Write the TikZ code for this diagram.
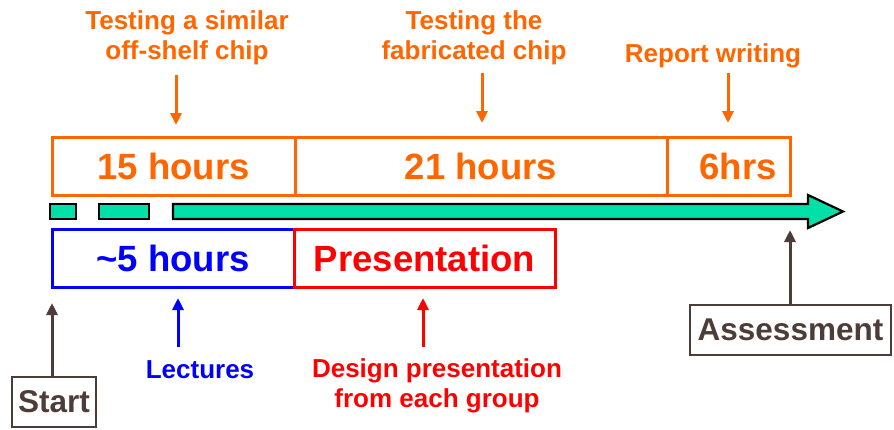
\documentclass[tikz,border=0pt]{standalone}
\usepackage{fontspec}
\setmainfont{Liberation Sans}
\usetikzlibrary{arrows.meta}
\definecolor{org}{HTML}{FF6600}
\definecolor{grn}{HTML}{00E0A8}
\definecolor{brn}{HTML}{4D3D38}
\definecolor{blu}{HTML}{0000FF}
\definecolor{rd}{HTML}{FF0000}
\tikzset{
  lab/.style={font=\fontsize{26}{30.5}\selectfont\bfseries, align=center, inner sep=0pt, anchor=north},
  big/.style={font=\fontsize{36.5}{40}\selectfont\bfseries, inner sep=0pt, minimum height=58pt, line width=3pt},
  obox/.style={big, draw=org, text=org},
  bbox/.style={big, draw=blu, text=blu},
  rbox/.style={big, draw=rd, text=rd},
  kbox/.style={draw=brn, text=brn, line width=2pt, font=\fontsize{31.5}{34}\selectfont\bfseries, inner sep=0pt, minimum height=50pt},
  tipA/.style={-{Triangle[length=12pt,width=11pt]}, line width=3pt},
  oarr/.style={tipA, draw=org},
  barr/.style={tipA, draw=blu},
  rarr/.style={tipA, draw=rd},
  karr/.style={tipA, draw=brn},
  garr/.style={draw=black, fill=grn, line width=2.2pt, line join=miter}
}
\begin{document}
\begin{tikzpicture}[x=1pt,y=-1pt]
\useasboundingbox (0,0) rectangle (894,429);
% top labels
\node[lab, text=org] (l1) at (187,10) {Testing a similar\\off-shelf chip};
\node[lab, text=org] (l2) at (474,10) {Testing the\\fabricated chip};
\node[lab, text=org] (l3) at (713,43) {Report writing};
% orange boxes
\node[obox, minimum width=243pt] (b15) at (173.5,166) {15 hours};
\node[obox, minimum width=372pt] (b21) at (481,166) {21 hours};
\node[obox, minimum width=123pt] (b6) at (728.5,166) {\hspace*{19pt}6hrs};
% lower boxes
\node[bbox, minimum width=242pt] (b5) at (173,258) {\textasciitilde5 hours};
\node[rbox, minimum width=261pt] (pres) at (424.5,258) {Presentation};
% green timeline
\draw[garr] (50,204) rectangle (76,219);
\draw[garr] (99,204) rectangle (149,219);
\draw[garr] (173,204) -- (808,204) -- (808,195) -- (843,211.5) -- (808,228) -- (808,219) -- (173,219) -- cycle;
% bottom labels
\node[lab, text=blu] (lec) at (200,360) {Lectures};
\node[lab, text=rd] (dp) at (437,358) {Design presentation\\from each group};
\node[kbox, minimum width=84pt] (start) at (54,402) {Start};
\node[kbox, minimum width=201pt] (assess) at (790.5,330) {Assessment};
% arrows
\coordinate (a1s) at (176,75); \coordinate (a1e) at (176,125);
\coordinate (a2s) at (482,73); \coordinate (a2e) at (482,123);
\coordinate (a3s) at (728,73); \coordinate (a3e) at (728,123);
\draw[oarr] (a1s) -- (a1e);
\draw[oarr] (a2s) -- (a2e);
\draw[oarr] (a3s) -- (a3e);
\coordinate (lecs) at (178,347); \coordinate (lece) at (178,298);
\coordinate (dps) at (423,347); \coordinate (dpe) at (423,298);
\draw[barr] (lecs) -- (lece);
\draw[rarr] (dps) -- (dpe);
\coordinate (st) at (52,303);
\draw[karr] (start.north -| st) -- (st);
\coordinate (at) at (790,230);
\draw[karr] (assess.north -| at) -- (at);
\end{tikzpicture}
\end{document}
